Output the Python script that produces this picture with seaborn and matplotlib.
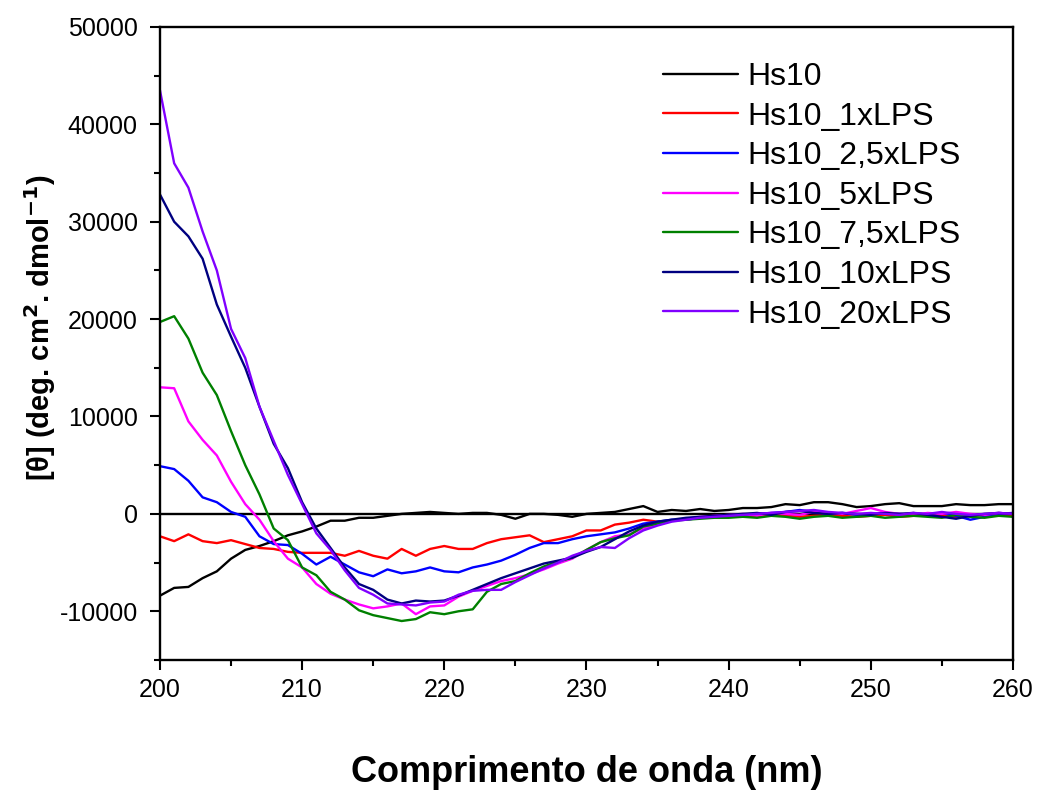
import numpy as np
import pandas as pd
import matplotlib
matplotlib.use("Agg")
import matplotlib.pyplot as plt
import seaborn as sns
from matplotlib.ticker import MultipleLocator

# wavelength, nm (1 nm steps)
wavelength = list(range(200, 261))

hs10 = [-8400, -7600, -7500, -6600, -5900, -4600, -3700, -3300, -2800, -2200,
        -1800, -1300, -700, -700, -400, -400, -200, 0, 100, 200,
        100, 0, 100, 100, -100, -500, 0, 0, -100, -300,
        0, 100, 200, 500, 800, 200, 400, 300, 500, 300,
        400, 600, 600, 700, 1000, 900, 1200, 1200, 1000, 700,
        800, 1000, 1100, 800, 800, 800, 1000, 900, 900, 1000, 1000]

hs10_1x = [-2300, -2800, -2100, -2800, -3000, -2700, -3100, -3500, -3600, -3900,
           -4000, -4000, -4000, -4300, -3800, -4300, -4600, -3600, -4300, -3600,
           -3300, -3600, -3600, -3000, -2600, -2400, -2200, -2900, -2600, -2300,
           -1700, -1700, -1100, -900, -600, -800, -700, -500, -400, -300,
           -300, -200, -300, -100, -200, -300, -200, -100, -200, -300,
           -200, -100, -300, -200, -100, -200, -300, -200, -100, -200, -100]

hs10_25x = [4900, 4600, 3400, 1700, 1200, 200, -300, -2300, -3100, -3200,
            -4100, -5200, -4400, -5200, -6000, -6400, -5700, -6100, -5900, -5500,
            -5900, -6000, -5500, -5200, -4800, -4200, -3500, -3000, -3000, -2600,
            -2300, -2100, -1900, -1500, -1000, -800, -600, -600, -400, -300,
            -200, -100, 0, 100, 200, 400, 200, 0, 100, -100,
            0, 100, 0, -100, 0, 100, -200, -600, -300, 0, 100]

hs10_5x = [13000, 12900, 9500, 7600, 6000, 3300, 1000, -600, -2800, -4600,
           -5500, -7200, -8200, -8800, -9300, -9700, -9500, -9200, -10300, -9500,
           -9400, -8500, -7900, -7400, -6900, -6600, -6200, -5700, -5100, -4600,
           -3700, -2900, -2300, -2100, -1500, -1000, -700, -500, -300, -200,
           -100, 0, -200, 100, 0, -100, 200, 100, 0, 300,
           600, 200, 0, -100, 100, 0, 200, 0, -100, 100, 0]

hs10_75x = [19700, 20300, 18000, 14500, 12200, 8500, 5000, 2000, -1500, -2700,
            -5500, -6300, -8000, -8800, -9900, -10400, -10700, -11000, -10800, -10100,
            -10300, -10000, -9800, -8000, -7200, -6900, -6100, -5400, -4900, -4500,
            -3700, -2900, -2500, -2200, -1300, -1000, -700, -600, -500, -400,
            -400, -300, -400, -200, -300, -500, -300, -200, -400, -300,
            -200, -400, -300, -200, -300, -400, -100, -300, -400, -200, -300]

hs10_10x = [32800, 30000, 28500, 26200, 21500, 18200, 15000, 11000, 7200, 4700,
            1200, -1500, -3500, -5500, -7200, -7800, -8800, -9200, -8900, -9000,
            -8900, -8400, -7800, -7200, -6600, -6100, -5600, -5100, -4800, -4500,
            -3900, -3400, -2600, -1800, -1200, -800, -600, -400, -300, -200,
            -100, 0, 100, -100, 200, 300, 100, 0, 100, 0,
            -100, 100, 0, 100, -100, -300, -500, -200, 0, 100, 0]

hs10_20x = [43500, 36000, 33500, 29000, 25000, 19000, 16000, 11000, 7500, 4000,
            1000, -2000, -3700, -5800, -7600, -8300, -9200, -9300, -9400, -9100,
            -9000, -8300, -7900, -7800, -7800, -7000, -6300, -5600, -5000, -4300,
            -3800, -3400, -3500, -2500, -1700, -1200, -800, -600, -400, -300,
            -200, -100, 0, 100, 200, 300, 400, 200, 100, 0,
            100, 0, -100, 100, 0, 200, 0, -100, 0, 100, 0]

labels = ["Hs10", "Hs10_1xLPS", "Hs10_2,5xLPS", "Hs10_5xLPS",
          "Hs10_7,5xLPS", "Hs10_10xLPS", "Hs10_20xLPS"]
series = [hs10, hs10_1x, hs10_25x, hs10_5x, hs10_75x, hs10_10x, hs10_20x]
colors = ["#000000", "#ff0000", "#0000ff", "#ff00ff", "#008000", "#000080", "#8000ff"]

frames = []
for lab, vals in zip(labels, series):
    frames.append(pd.DataFrame({"nm": wavelength, "theta": vals, "amostra": lab}))
df = pd.concat(frames, ignore_index=True)

sns.set_style("white")
plt.rcParams['font.family'] = ['Liberation Sans', 'DejaVu Sans']
plt.rcParams['axes.unicode_minus'] = False
for key in ['text.color', 'axes.labelcolor', 'xtick.color', 'ytick.color']:
    plt.rcParams[key] = 'black'

fig = plt.figure(figsize=(10.4, 7.9), dpi=100)
ax = fig.add_axes([0.1538, 0.1646, 0.8202, 0.8013])

sns.lineplot(data=df, x="nm", y="theta", hue="amostra", hue_order=labels,
             palette=dict(zip(labels, colors)), linewidth=1.7, ax=ax)

ax.axhline(0, color="black", linewidth=1.7, zorder=0)

ax.set_xlim(200, 260)
ax.set_ylim(-15000, 50000)
ax.xaxis.set_major_locator(MultipleLocator(10))
ax.xaxis.set_minor_locator(MultipleLocator(5))
ax.yaxis.set_major_locator(MultipleLocator(10000))
ax.yaxis.set_minor_locator(MultipleLocator(5000))
ax.tick_params(which="major", direction="out", length=7, width=1.5,
               labelsize=18, left=True, bottom=True, pad=9)
ax.tick_params(which="minor", direction="out", length=4, width=1.5,
               left=True, bottom=True)
ax.tick_params(axis="x", pad=6)
for sp in ax.spines.values():
    sp.set_linewidth(1.7)
    sp.set_color("black")

ax.set_xlabel("Comprimento de onda (nm)", fontsize=26, fontweight="bold", labelpad=38)
ax.set_ylabel(r"[θ] (deg. cm$^{\mathbf{2}}$. dmol$^{\mathbf{-1}}$)", fontsize=21,
              fontweight="bold")
ax.yaxis.set_label_coords(-0.12, 0.525)

leg = ax.legend(loc="upper left", bbox_to_anchor=(0.556, 0.99), frameon=False,
                fontsize=23, handlelength=2.35, handletextpad=0.28, labelspacing=0.3)
for line in leg.get_lines():
    line.set_linewidth(1.7)

fig.savefig("out.png", dpi=100)
